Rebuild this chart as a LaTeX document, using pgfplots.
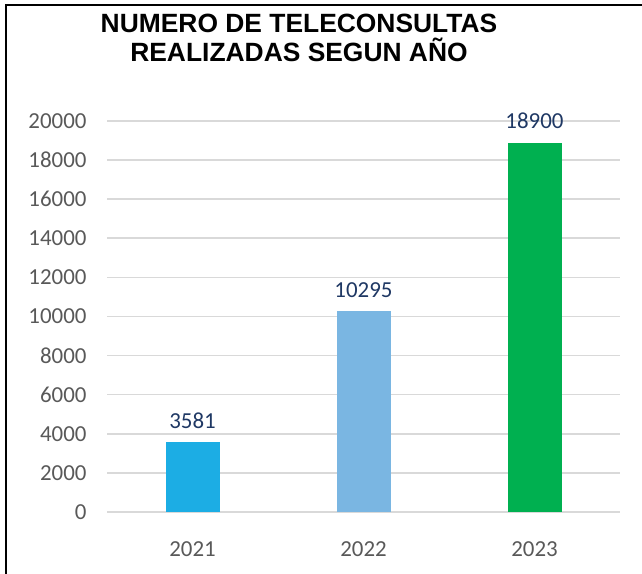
\documentclass[border=0pt]{standalone}
\usepackage{fontspec}
\setmainfont{Carlito}
\newfontfamily\arialfont{Liberation Sans}
\usepackage{pgfplots}
\pgfplotsset{compat=1.18}
\definecolor{c2021}{HTML}{1CADE4}
\definecolor{c2022}{HTML}{7AB6E2}
\definecolor{c2023}{HTML}{00B050}
\definecolor{valblue}{HTML}{1F3864}
\definecolor{tickgray}{HTML}{595959}
\definecolor{gridgray}{HTML}{D9D9D9}

\begin{document}
\begin{tikzpicture}
\useasboundingbox (0,0) rectangle (642bp,574bp);
\begin{axis}[
  at={(107bp,62bp)}, anchor=south west,
  scale only axis, width=513bp, height=391bp,
  xmin=-0.5, xmax=2.5, ymin=0, ymax=20000,
  xtick={0,1,2}, xticklabels={2021,2022,2023},
  ytick={0,2000,...,20000},
  scaled y ticks=false,
  /pgf/number format/1000 sep={},
  /pgf/number format/fixed,
  /pgf/number format/precision=0,
  /pgf/number format/assume math mode=true,
  axis line style={draw=none},
  major tick style={draw=none},
  ymajorgrids, grid style={gridgray, line width=1.6bp},
  ticklabel style={font=\fontsize{23}{27}\selectfont, text=tickgray},
  yticklabel style={xshift=-17bp},
  xticklabel style={yshift=-22bp},
  ybar, bar width=54bp, bar shift=0pt,
  nodes near coords,
  nodes near coords style={font=\fontsize{23}{27}\selectfont, text=valblue, yshift=10bp},
]
\addplot[draw=none, fill=c2021] coordinates {(0,3581)};
\addplot[draw=none, fill=c2022] coordinates {(1,10295)};
\addplot[draw=none, fill=c2023] coordinates {(2,18900)};
\end{axis}
% frame (left and top edges only)
\draw[line width=2bp, black] (5.5bp,0) -- (5.5bp,569bp) -- (642bp,569bp);
% title
\node[anchor=base, font=\arialfont\bfseries\fontsize{26.5}{30}\selectfont] at (299bp,541bp) {NUMERO DE TELECONSULTAS};
\node[anchor=base, font=\arialfont\bfseries\fontsize{26.5}{30}\selectfont] at (299bp,512bp) {REALIZADAS SEGUN AÑO};
\end{tikzpicture}
\end{document}
